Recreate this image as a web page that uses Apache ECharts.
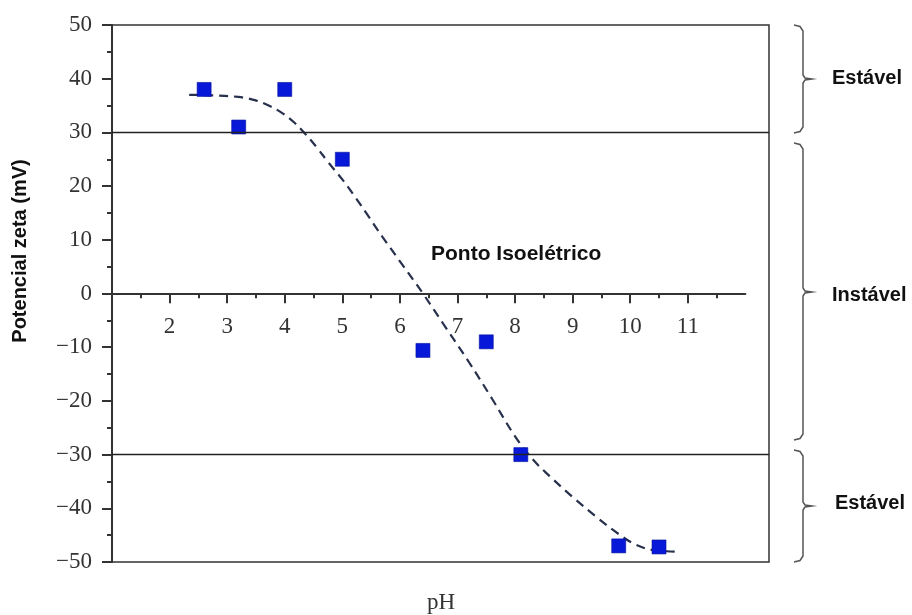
<!DOCTYPE html>
<html>
<head>
<meta charset="utf-8">
<script src="https://cdn.jsdelivr.net/npm/echarts@6/dist/echarts.min.js"></script>
<style>
html, body { margin: 0; background: #fff; }
#chart { width: 912px; height: 615px; }
</style>
</head>
<body>
<div id="chart"></div>
<script>
// measured points (pH, zeta potential in mV)
const phPoints = [2.6, 3.2, 4.0, 5.0, 6.4, 7.5, 8.1, 9.8, 10.5]
const zetaPoints = [38, 31, 38, 25, -10.6, -9, -30, -47, -47.2]

// dashed fit curve
const fitPh = [2.34, 2.75, 3.19, 3.48, 3.74, 3.97, 4.17, 4.35, 4.55, 4.75, 5.01, 5.24, 5.42, 5.7, 6.0, 6.4, 6.8, 7.2, 7.6, 8.0, 8.3, 8.6, 9.0, 9.4, 9.8, 10.1, 10.4, 10.63, 10.8]
const fitZeta = [37.0, 36.9, 36.6, 36.0, 34.9, 33.5, 31.8, 29.8, 27.3, 24.5, 21.1, 17.7, 14.9, 10.5, 6.0, 0.0, -6.4, -12.8, -19.6, -26.6, -30.8, -34.0, -37.9, -41.5, -44.8, -46.8, -47.8, -48.0, -48.1]

const labelTicks = [2, 3, 4, 5, 6, 7, 8, 9, 10, 11]
const stableLimits = [30, -30]
const zoneLabels = ["Estável", "Instável", "Estável"]

const xMin = 1
const xMax = 12.41
const axisEnd = 12

const chart = echarts.init(document.getElementById("chart"))

const serif = "Liberation Serif"
const sans = "Liberation Sans"
const ink = "#333"

// plot box: 112..769 x 25..562, zero line at 293.35
const plotLeft = 112
const plotTop = 25
const plotBottom = 53
const pxPerPh = (769 - plotLeft) / (xMax - xMin)
const zeroY = 293.35

// curly bracket: vertical at x, from y1 to y2, notch at ym
const bracket = (x, y1, y2, ym) => ({
  type: "polyline",
  shape: {
    points: [
      [x - 9, y1], [x - 3, y1 + 1.5], [x, y1 + 6], [x, ym - 4], [x + 2, ym - 1], [x + 9, ym],
      [x + 2, ym + 1], [x, ym + 4], [x, y2 - 6], [x - 3, y2 - 1.5], [x - 9, y2]
    ]
  },
  style: { stroke: "#555", lineWidth: 1.5, fill: null }
})

const zoneText = (text, x, y) => ({
  type: "text",
  x: x,
  y: y,
  style: { text: text, font: `bold 20px ${sans}`, fill: "#111", verticalAlign: "middle" }
})

const options = {
  animation: false,
  grid: [
    {
      left: plotLeft,
      right: 912 - 769,
      top: plotTop,
      bottom: plotBottom,
      show: true,
      borderColor: ink,
      borderWidth: 1.5
    },
    {
      // helper grid whose bottom edge sits on the zero line, for the pH axis
      left: plotLeft,
      width: (axisEnd - xMin) * pxPerPh,
      top: plotTop,
      bottom: 615 - zeroY
    }
  ],
  xAxis: [
    {
      type: "value",
      gridIndex: 0,
      min: xMin,
      max: xMax,
      show: false
    },
    {
      type: "value",
      gridIndex: 1,
      min: xMin,
      max: axisEnd,
      interval: 1,
      position: "bottom",
      axisLine: { show: true, onZero: false, lineStyle: { color: ink, width: 2 } },
      axisTick: {
        show: true,
        customValues: labelTicks,
        length: 10,
        lineStyle: { color: ink, width: 2 }
      },
      minorTick: { show: true, splitNumber: 2, length: 5, lineStyle: { color: ink, width: 2 } },
      axisLabel: {
        customValues: labelTicks,
        margin: 22,
        fontFamily: serif,
        fontSize: 23,
        color: "#333"
      },
      splitLine: { show: false }
    }
  ],
  yAxis: [
    {
      type: "value",
      gridIndex: 0,
      min: -50,
      max: 50,
      interval: 10,
      axisLine: { show: true, onZero: false, lineStyle: { color: ink, width: 2 } },
      axisTick: { show: true, length: 10, lineStyle: { color: ink, width: 2 } },
      minorTick: { show: true, splitNumber: 2, length: 5, lineStyle: { color: ink, width: 2 } },
      axisLabel: {
        margin: 20,
        fontFamily: serif,
        fontSize: 23,
        color: "#333",
        formatter: (v) => String(v).replace("-", "\u2212")
      },
      splitLine: { show: false }
    },
    {
      type: "value",
      gridIndex: 1,
      min: 0,
      max: 50,
      show: false
    }
  ],
  series: [
    {
      type: "line",
      xAxisIndex: 0,
      yAxisIndex: 0,
      data: fitPh.map((p, i) => [p, fitZeta[i]]),
      smooth: 0.4,
      symbol: "none",
      lineStyle: { color: "#27304c", width: 2.2, type: [9, 6] },
      z: 2,
      markLine: {
        silent: true,
        symbol: "none",
        label: { show: false },
        lineStyle: { color: "#222", width: 1.3, type: "solid" },
        data: stableLimits.map((v) => ({ yAxis: v }))
      }
    },
    {
      type: "scatter",
      xAxisIndex: 0,
      yAxisIndex: 0,
      data: phPoints.map((p, i) => [p, zetaPoints[i]]),
      symbol: "rect",
      symbolSize: 14,
      itemStyle: { color: "#0818d8", borderColor: "#05109a", borderWidth: 0.6, opacity: 1 },
      z: 3
    }
  ],
  graphic: [
    {
      type: "text",
      x: 431,
      y: 254,
      style: { text: "Ponto Isoelétrico", font: `bold 21px ${sans}`, fill: "#111", verticalAlign: "middle" }
    },
    {
      type: "text",
      x: 10,
      y: 251,
      rotation: Math.PI / 2,
      style: {
        text: "Potencial zeta (mV)",
        font: `bold 20px ${sans}`,
        fill: "#111",
        align: "center",
        verticalAlign: "top"
      }
    },
    {
      type: "text",
      x: 441,
      y: 603,
      style: { text: "pH", font: `23px ${serif}`, fill: "#333", align: "center", verticalAlign: "middle" }
    },
    bracket(803, 25, 133, 79),
    bracket(803, 143, 440, 292),
    bracket(803, 450, 562, 506),
    zoneText(zoneLabels[0], 832, 78),
    zoneText(zoneLabels[1], 832, 295),
    zoneText(zoneLabels[2], 835, 503)
  ]
}

chart.setOption(options)
window.addEventListener("resize", () => chart.resize())
</script>
</body>
</html>
